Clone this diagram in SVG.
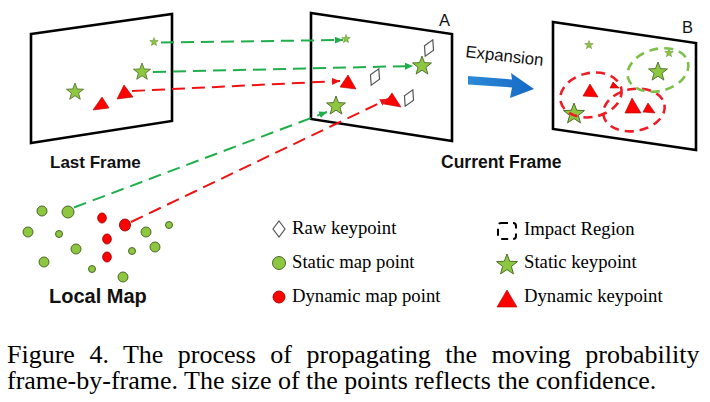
<svg xmlns="http://www.w3.org/2000/svg" xmlns:xlink="http://www.w3.org/1999/xlink" width="710" height="402" viewBox="0 0 710 402">
<style>
.frame{fill:#fff;stroke:#000;stroke-width:2.6;stroke-linejoin:miter}
.star{fill:#8dc63f;stroke:#4d6b2c;stroke-width:0.9;stroke-linejoin:round}
.tri{fill:#ff0000;stroke:#b00000;stroke-width:0.6;stroke-linejoin:round}
.dia{fill:#fff;stroke:#555;stroke-width:1.2}
.gdot{fill:#8dc63f;stroke:#3f5a22;stroke-width:0.9}
.rdot{fill:#ff0000;stroke:#a00000;stroke-width:0.9}
.gl{fill:none;stroke:#1fae4b;stroke-width:2;stroke-dasharray:13 7}
.rl{fill:none;stroke:#f01212;stroke-width:2;stroke-dasharray:13 7}
.lbl{font-family:"Liberation Sans",Arial,sans-serif;font-weight:bold;fill:#111}
.sm{font-family:"Liberation Sans",Arial,sans-serif;fill:#111}
.leg{font-family:"Liberation Serif","Times New Roman",serif;font-size:18.7px;fill:#000}
.cap{font-family:"Liberation Serif","Times New Roman",serif;font-size:26px;fill:#000}
.rell{fill:none;stroke:#ee1c24;stroke-width:2.6;stroke-dasharray:9 6}
.gell{fill:none;stroke:#7cc04a;stroke-width:2.6;stroke-dasharray:9 6}
</style>
<defs>
<path id="st" d="M0,-10 L2.47,-3.4 L9.51,-3.09 L3.99,1.3 L5.88,8.09 L0,4.2 L-5.88,8.09 L-3.99,1.3 L-9.51,-3.09 L-2.47,-3.4 Z"/>
<path id="dm" d="M0,-9 L5,0 L0,9 L-5,0 Z"/>
<marker id="ag" markerUnits="userSpaceOnUse" markerWidth="9" markerHeight="8" refX="8" refY="3.5" orient="auto">
<path d="M0,0 L8,3.5 L0,7 Z" fill="#1fae4b"/>
</marker>
<marker id="ar" markerUnits="userSpaceOnUse" markerWidth="9" markerHeight="8" refX="8" refY="3.5" orient="auto">
<path d="M0,0 L8,3.5 L0,7 Z" fill="#f01212"/>
</marker>
<linearGradient id="bl" x1="0" y1="0" x2="1" y2="0">
<stop offset="0" stop-color="#2b8ad8"/>
<stop offset="1" stop-color="#1668c4"/>
</linearGradient>
</defs>

<g id="last-frame">
<polygon class="frame" points="31,34 172,14 172,121 31,143"/>
<use href="#st" class="star" transform="translate(154,42) scale(0.45)"/>
<use href="#st" class="star" transform="translate(142,72) scale(0.9)"/>
<use href="#st" class="star" transform="translate(75,92) scale(0.9)"/>
<polygon class="tri" points="102,97 93,110 109,108"/>
<polygon class="tri" points="124,85 117,99 133,97"/>
<text class="lbl" x="50" y="168" font-size="17">Last Frame</text>
</g>

<g id="current-frame">
<polygon class="frame" points="311,13 452,34 452,141 311,119"/>
<text class="sm" x="439" y="26" font-size="16.5">A</text>
<use href="#st" class="star" transform="translate(346,39) scale(0.45)"/>
<use href="#st" class="star" transform="translate(422,66) scale(1)"/>
<use href="#st" class="star" transform="translate(336,106) scale(1)"/>
<polygon class="tri" points="348,75 340,87 356,89"/>
<polygon class="tri" points="392,93 384,104 401,107"/>
<use href="#dm" class="dia" transform="translate(429,48) rotate(25)"/>
<use href="#dm" class="dia" transform="translate(375,77) rotate(25)"/>
<use href="#dm" class="dia" transform="translate(409,98) rotate(25)"/>
<text class="lbl" x="441" y="168" font-size="17.5">Current Frame</text>
</g>

<g id="expansion">
<text class="sm" font-size="16.8" transform="translate(465,57) rotate(6.5)">Expansion</text>
<polygon fill="url(#bl)" points="468,76 512,79.5 511,73 534,89 510,98 512,87.5 468,84.5"/>
</g>

<g id="frame-b">
<polygon class="frame" points="553,22 696,43 696,150 553,129"/>
<text class="sm" x="682" y="33" font-size="16.5">B</text>
<use href="#st" class="star" transform="translate(589,45) scale(0.45)"/>
<use href="#st" class="star" transform="translate(669,53) scale(0.45)"/>
<use href="#st" class="star" transform="translate(658,72) scale(1)"/>
<use href="#st" class="star" transform="translate(574,114) scale(1.1)"/>
<polygon class="tri" points="590,84 583,96 598,97"/>
<polygon class="tri" points="613,82 610,88 619,88"/>
<polygon class="tri" points="632,98 625,113 641,113"/>
<polygon class="tri" points="648,103 643,112 655,113"/>
<ellipse class="rell" cx="591" cy="95" rx="31" ry="22" transform="rotate(-12 591 95)"/>
<ellipse class="rell" cx="634" cy="110" rx="31" ry="21" transform="rotate(-10 634 110)"/>
<ellipse class="gell" cx="658" cy="70" rx="31" ry="21" transform="rotate(-15 658 70)"/>
</g>

<g id="local-map">
<circle class="gdot" cx="42" cy="211" r="5"/>
<circle class="gdot" cx="68" cy="212" r="6"/>
<circle class="gdot" cx="28" cy="232" r="5"/>
<circle class="gdot" cx="59" cy="234" r="3.5"/>
<circle class="gdot" cx="76" cy="249" r="5"/>
<circle class="gdot" cx="44" cy="262" r="5"/>
<circle class="gdot" cx="92" cy="269" r="3.5"/>
<circle class="gdot" cx="123" cy="277" r="5"/>
<circle class="gdot" cx="146" cy="232" r="5"/>
<circle class="gdot" cx="169" cy="225" r="3.5"/>
<circle class="gdot" cx="155" cy="247" r="5"/>
<circle class="gdot" cx="132" cy="251" r="3.5"/>
<ellipse class="rdot" cx="102" cy="218" rx="4.3" ry="5"/>
<ellipse class="rdot" cx="125" cy="225" rx="5.5" ry="6"/>
<ellipse class="rdot" cx="107" cy="239" rx="4.3" ry="5"/>
<ellipse class="rdot" cx="107" cy="257" rx="4.3" ry="5"/>
<text class="lbl" x="49" y="303" font-size="20">Local Map</text>
</g>

<g id="connectors">
<line class="gl" x1="161" y1="42.5" x2="343" y2="40" marker-end="url(#ag)"/>
<line class="gl" x1="153" y1="72" x2="413" y2="66" marker-end="url(#ag)"/>
<line class="rl" x1="132" y1="91" x2="340" y2="81" marker-end="url(#ar)"/>
<line class="gl" x1="74" y1="207.5" x2="327" y2="112" marker-end="url(#ag)"/>
<line class="rl" x1="131" y1="222" x2="388" y2="99" marker-end="url(#ar)"/>
</g>

<g id="legend">
<polygon class="dia" points="279,221 285,229 279,237 273,229"/>
<text class="leg" x="292" y="234">Raw keypoint</text>
<circle class="gdot" cx="279" cy="263" r="6.5"/>
<text class="leg" x="292" y="268">Static map point</text>
<circle class="rdot" cx="279" cy="297" r="6"/>
<text class="leg" x="292" y="302">Dynamic map point</text>
<rect x="498" y="223" width="18" height="16" rx="3" fill="none" stroke="#000" stroke-width="2" stroke-dasharray="7 5"/>
<text class="leg" x="524" y="235">Impact Region</text>
<use href="#st" class="star" transform="translate(507,265) scale(1.1)"/>
<text class="leg" x="524" y="268">Static keypoint</text>
<polygon class="tri" points="507,290 497,307 517,307"/>
<text class="leg" x="524" y="302">Dynamic keypoint</text>
</g>

<g id="caption">
<text class="cap" x="7" y="363" word-spacing="8">Figure 4. The process of propagating the moving probability</text>
<text class="cap" x="7" y="389">frame-by-frame. The size of the points reflects the confidence.</text>
</g>
</svg>
